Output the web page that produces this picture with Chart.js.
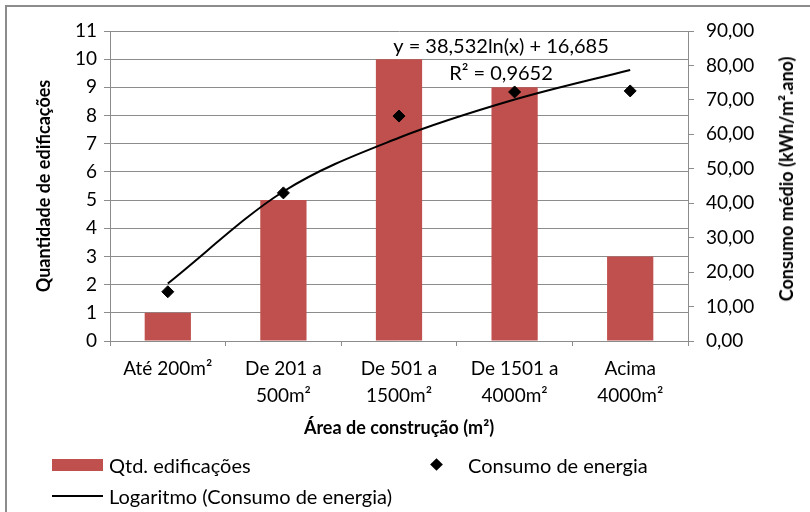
<!DOCTYPE html>
<html>
<head>
<meta charset="utf-8">
<script src="https://cdn.jsdelivr.net/npm/chart.js@4/dist/chart.umd.min.js"></script>
<style>
  body { margin: 0; background: #fff; }
  #wrap { position: relative; width: 810px; height: 512px; font-family: Lato, sans-serif; color: #000; overflow: hidden; }
  #frame { position: absolute; left: 5px; top: 5px; right: -10px; bottom: -10px; border-left: 2px solid #8c8c8c; border-top: 2px solid #8c8c8c; }
  canvas { position: absolute; left: 0; top: 0; }
  .lg { position: absolute; font-size: 20px; line-height: 20px; white-space: nowrap; }
  .yr { position: absolute; left: 786px; top: 179px; font-size: 18px; font-weight: bold; white-space: nowrap; transform: translate(-50%, -50%) rotate(-90deg); }
</style>
</head>
<body>
<div id="wrap">
  <div id="frame"></div>
  <canvas id="chart" width="810" height="512"></canvas>
  <div class="yr">Consumo médio (kWh/m².ano)</div>
  <div class="lg" style="left:52px;top:459px;width:51px;height:12px;background:#c0504d"></div>
  <div class="lg" style="left:109px;top:455px">Qtd. edificações</div>
  <div class="lg" style="left:432px;top:460px;width:9px;height:9px;background:#000;transform:rotate(45deg)"></div>
  <div class="lg" style="left:468px;top:455px">Consumo de energia</div>
  <div class="lg" style="left:52px;top:495px;width:51px;height:2px;background:#000"></div>
  <div class="lg" style="left:109px;top:486px">Logaritmo (Consumo de energia)</div>
</div>
<script>
const categories = [['Até 200m²'], ['De 201 a', '500m²'], ['De 501 a', '1500m²'], ['De 1501 a', '4000m²'], ['Acima', '4000m²']]
const qtdEdificacoes = [1, 5, 10, 9, 3]
const consumoEnergia = [14.3, 43.0, 65.3, 72.3, 72.6]
const tendenciaLog = [16.7, 43.4, 59.0, 70.1, 78.7]
const equacao = ['y = 38,532ln(x) + 16,685', 'R² = 0,9652']

const gray = '#8c8c8c'
const tickFont = { family: 'Lato', size: 19 }
const titleFont = { family: 'Lato', size: 18, weight: 'bold' }

const equationLabel = {
    id: 'equationLabel',
    afterDatasetsDraw(chart) {
        const ctx = chart.ctx
        ctx.save()
        ctx.font = '20px Lato'
        ctx.fillStyle = '#000'
        ctx.textAlign = 'center'
        ctx.textBaseline = 'middle'
        ctx.fillText(equacao[0], 501, 47)
        ctx.fillText(equacao[1], 501, 74)
        ctx.restore()
    }
}

const ctx = document.getElementById('chart').getContext('2d')

new Chart(ctx, {
    type: 'bar',
    data: {
        labels: categories,
        datasets: [
            {
                label: 'Consumo de energia',
                type: 'line',
                data: consumoEnergia,
                yAxisID: 'y1',
                showLine: false,
                pointStyle: 'rectRot',
                pointRadius: 6,
                pointBackgroundColor: '#000',
                pointBorderColor: '#000',
                order: 0
            },
            {
                label: 'Logaritmo (Consumo de energia)',
                type: 'line',
                data: tendenciaLog,
                yAxisID: 'y1',
                borderColor: '#000',
                borderWidth: 2,
                pointRadius: 0,
                cubicInterpolationMode: 'monotone',
                fill: false,
                order: 1
            },
            {
                label: 'Qtd. edificações',
                data: qtdEdificacoes,
                yAxisID: 'y',
                backgroundColor: '#c0504d',
                categoryPercentage: 1,
                barPercentage: 0.4,
                order: 2
            }
        ]
    },
    options: {
        responsive: false,
        animation: false,
        devicePixelRatio: 1,
        layout: { padding: { top: 31, left: 0, right: 0, bottom: 67 } },
        plugins: {
            legend: { display: false },
            tooltip: { enabled: false }
        },
        scales: {
            x: {
                grid: { drawOnChartArea: false, color: gray, tickLength: 5 },
                border: { color: gray },
                ticks: { color: '#000', font: { family: 'Lato', size: 19, lineHeight: '27px' }, padding: 9, maxRotation: 0, autoSkip: false },
                title: { display: true, text: 'Área de construção (m²)', color: '#000', font: titleFont, padding: { top: 0, bottom: 6 } },
                afterFit(scale) { scale.height = 104 }
            },
            y: {
                position: 'left',
                min: 0,
                max: 11,
                ticks: { stepSize: 1, color: '#000', font: tickFont, padding: 7 },
                grid: { color: gray, tickLength: 6 },
                border: { color: gray },
                title: { display: true, text: 'Quantidade de edificações', color: '#000', font: titleFont, padding: { top: 33, bottom: 0 } },
                afterFit(scale) { scale.width = 110 }
            },
            y1: {
                position: 'right',
                min: 0,
                max: 90,
                ticks: {
                    stepSize: 10,
                    color: '#000',
                    font: tickFont,
                    padding: 12,
                    callback: (v) => v.toFixed(2).replace('.', ',')
                },
                grid: { drawOnChartArea: false, color: gray, tickLength: 6 },
                border: { color: gray },
                afterFit(scale) { scale.width = 122 }
            }
        }
    },
    plugins: [equationLabel]
})
</script>
</body>
</html>
